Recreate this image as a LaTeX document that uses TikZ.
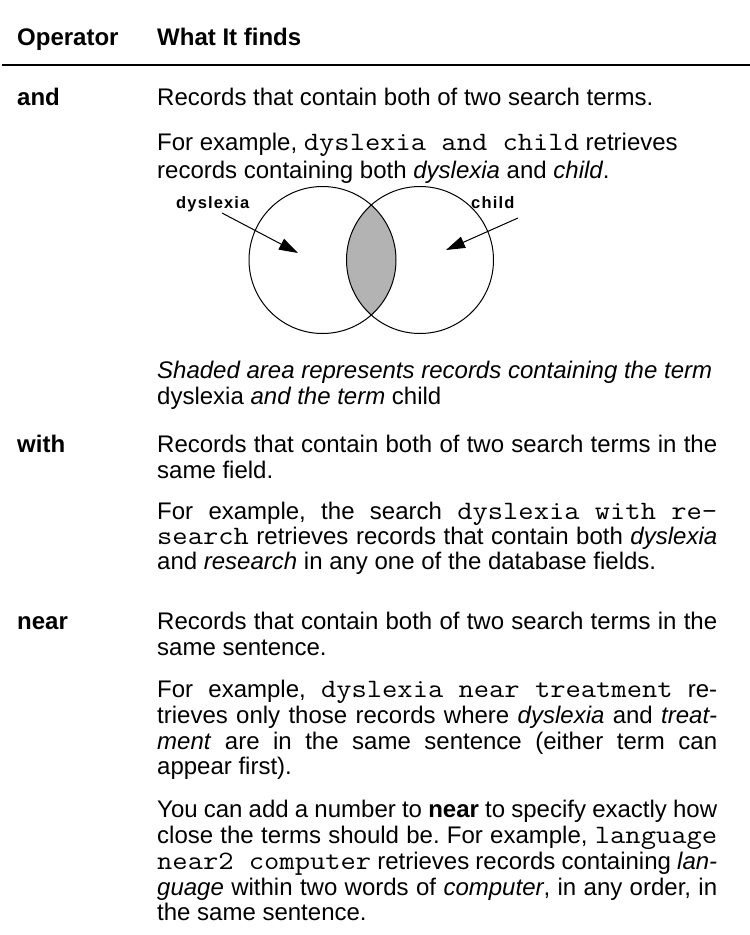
\documentclass[tikz,border=0pt]{standalone}
\usepackage{fontspec}
\setmainfont{Liberation Sans}
\newfontfamily\cwfont[FakeStretch=1.12,WordSpace={1,0,0}]{Latin Modern Mono}
\usetikzlibrary{arrows.meta}
\definecolor{lensgray}{RGB}{179,179,179}
\frenchspacing
\newcommand\bodyfnt{\fontsize{24}{26}\selectfont\frenchspacing}
\newcommand\cw[1]{{\fontsize{26.5}{26}\selectfont\cwfont #1}}
\newcommand\jline[1]{\hbox to 560pt{#1}}
\begin{document}
\begin{tikzpicture}[x=1pt,y=-1pt,
  body/.style={anchor=base west, inner sep=0pt, font=\bodyfnt},
  head/.style={anchor=base west, inner sep=0pt, font=\bodyfnt\bfseries},
  vlabel/.style={anchor=base west, inner sep=0pt, font=\fontsize{16.5}{18}\selectfont\bfseries\addfontfeatures{LetterSpace=7}},
  ptr/.style={-{Triangle[length=19pt,width=12pt]}, line width=1pt},
  circ/.style={line width=1pt}]
\useasboundingbox (0,0) rectangle (750,935);
% header
\node[head] (hop) at (17,45) {Operator};
\node[head] (hwhat) at (157,45) {What It finds};
\draw[line width=2pt] (2,65) -- (750,65);
% and
\node[head] (opand) at (17,105) {and};
\node[body] (and1) at (157,105) {Records that contain both of two search terms.};
\node[body] (and2) at (157,150) {For example, \cw{dyslexia and child} retrieves};
\node[body] (and3) at (157,178) {records containing both \textit{dyslexia} and \textit{child}.};
% venn
\coordinate (cl) at (322.5,260);
\coordinate (cr) at (420,260);
\begin{scope}
  \clip (cl) circle[radius=73.5pt];
  \fill[lensgray] (cr) circle[radius=73.5pt];
\end{scope}
\draw[circ] (cl) circle[radius=73.5pt];
\draw[circ] (cr) circle[radius=73.5pt];
\node[vlabel] (ldys) at (176,208) {dyslexia};
\node[vlabel] (lchild) at (471,208) {child};
\coordinate (sL) at (222,213);
\coordinate (tL) at (298,253);
\coordinate (sR) at (518,218);
\coordinate (tR) at (446,250);
\draw[ptr] (sL) -- (tL);
\draw[ptr] (sR) -- (tR);
\node[body] (cap1) at (157,378) {\textit{Shaded area represents records containing the term}};
\node[body] (cap2) at (157,404) {dyslexia \textit{and the term} child};
% with
\node[head] (opwith) at (17,452) {with};
\node[body] (w1) at (157,452) {\jline{Records that contain both of two search terms in the}};
\node[body] (w2) at (157,478) {same field.};
\node[body] (w3) at (157,519) {\jline{For example, the search \cw{dyslexia with re-}}};
\node[body] (w4) at (157,544) {\jline{\cw{search} retrieves records that contain both \textit{dyslexia}}};
\node[body] (w5) at (157,569) {and \textit{research} in any one of the database fields.};
% near
\node[head] (opnear) at (17,629) {near};
\node[body] (n1) at (157,629) {\jline{Records that contain both of two search terms in the}};
\node[body] (n2) at (157,655) {same sentence.};
\node[body] (n3) at (157,697) {\jline{For example, \cw{dyslexia near treatment} re-}};
\node[body] (n4) at (157,723) {\jline{trieves only those records where \textit{dyslexia} and \textit{treat-}}};
\node[body] (n5) at (157,749) {\jline{\textit{ment} are in the same sentence (either term can}};
\node[body] (n6) at (157,774) {appear first).};
\node[body] (n7) at (157,817) {\jline{You can add a number to \textbf{near} to specify exactly how}};
\node[body] (n8) at (157,843) {\jline{close the terms should be. For example, \cw{language}}};
\node[body] (n9) at (157,869) {\jline{\cw{near2 computer} retrieves records containing \textit{lan-}}};
\node[body] (n10) at (157,895) {\jline{\textit{guage} within two words of \textit{computer}, in any order, in}};
\node[body] (n11) at (157,920) {the same sentence.};
\end{tikzpicture}
\end{document}
